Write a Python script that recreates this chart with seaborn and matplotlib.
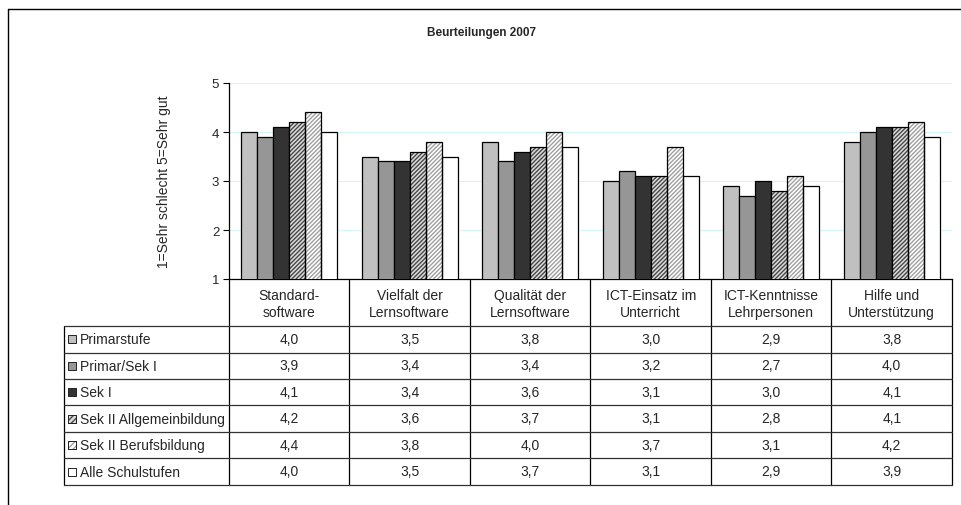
import numpy as np
import pandas as pd
import matplotlib
matplotlib.use("Agg")
import matplotlib.pyplot as plt
from matplotlib.lines import Line2D
from matplotlib.patches import Rectangle
from matplotlib.transforms import Affine2D, blended_transform_factory
import seaborn as sns

# ---- data -------------------------------------------------------------
categories = [
    "Standard-\nsoftware",
    "Vielfalt der\nLernsoftware",
    "Qualität der\nLernsoftware",
    "ICT-Einsatz im\nUnterricht",
    "ICT-Kenntnisse\nLehrpersonen",
    "Hilfe und\nUnterstützung",
]
series_names = [
    "Primarstufe",
    "Primar/Sek I",
    "Sek I",
    "Sek II Allgemeinbildung",
    "Sek II Berufsbildung",
    "Alle Schulstufen",
]
primarstufe = [4.0, 3.5, 3.8, 3.0, 2.9, 3.8]
primar_sek1 = [3.9, 3.4, 3.4, 3.2, 2.7, 4.0]
sek1 = [4.1, 3.4, 3.6, 3.1, 3.0, 4.1]
sek2_allgemein = [4.2, 3.6, 3.7, 3.1, 2.8, 4.1]
sek2_beruf = [4.4, 3.8, 4.0, 3.7, 3.1, 4.2]
alle = [4.0, 3.5, 3.7, 3.1, 2.9, 3.9]
series_values = [primarstufe, primar_sek1, sek1, sek2_allgemein, sek2_beruf, alle]
y_ticks = [1, 2, 3, 4, 5]

# ---- styles -----------------------------------------------------------
face_colors = ["#c0c0c0", "#969696", "#333333", "#dcdcdc", "#ffffff", "#ffffff"]
hatch_colors = [None, None, None, "#484848", "#a0a0a0", None]
hatch_pattern = "////////"
table_fs = 10

df = pd.DataFrame(
    [(c, s, v) for s, vals in zip(series_names, series_values)
     for c, v in zip(categories, vals)],
    columns=["Kategorie", "Stufe", "Wert"],
)

sns.set_theme(style="white")
plt.rcParams["font.family"] = ["Liberation Sans", "DejaVu Sans"]
plt.rcParams["hatch.linewidth"] = 1.0

W, H = 962, 506
fig = plt.figure(figsize=(W / 100, H / 100), dpi=100)
fig.patch.set_facecolor("white")

# pixel layout transform (origin top-left)
pix = Affine2D().scale(1 / W, -1 / H).translate(0, 1) + fig.transFigure

left_px, right_px, top_px, bottom_px = 229, 952, 84, 280
ax = fig.add_axes([left_px / W, 1 - bottom_px / H,
                   (right_px - left_px) / W, (bottom_px - top_px) / H])

sns.barplot(
    data=df, x="Kategorie", y="Wert", hue="Stufe",
    order=categories, hue_order=series_names,
    palette=face_colors, edgecolor="black", linewidth=0.9,
    width=0.8, gap=0, legend=False, ax=ax, zorder=3,
)

# hatched series: stripes in their own colour, black outline drawn on top
for cont, hc in zip(ax.containers, hatch_colors):
    if hc is None:
        continue
    for p in cont.patches:
        p.set_hatch(hatch_pattern)
        p.set_edgecolor(hc)
        p.set_linewidth(0)
        ax.add_patch(Rectangle(p.get_xy(), p.get_width(), p.get_height(),
                               fill=False, edgecolor="black", linewidth=0.9,
                               zorder=4))

ax.set_ylim(1, 5)
ax.set_xlim(-0.5, len(categories) - 0.5)
ax.set_yticks(y_ticks)
ax.set_yticklabels([str(t) for t in y_ticks], fontsize=9.5)
ax.tick_params(axis="y", direction="out", length=4, width=0.8,
               color="black", pad=3, left=True)
ax.tick_params(axis="x", bottom=False, labelbottom=False)
ax.set_xlabel("")
ax.set_ylabel("1=Sehr schlecht 5=Sehr gut", fontsize=table_fs, labelpad=29)
ax.yaxis.grid(True, color="#d4f6f6", linewidth=0.8, zorder=0)
ax.set_axisbelow(True)
for side in ("top", "right"):
    ax.spines[side].set_visible(False)
for side in ("left", "bottom"):
    ax.spines[side].set_color("black")
    ax.spines[side].set_linewidth(0.9)

# ---- title and outer frame ---------------------------------------------
fig.text(482, 33, "Beurteilungen 2007", transform=pix, ha="center",
         va="center", fontsize=8.5, fontweight="bold")
fig.add_artist(Line2D([8, 962], [10, 10], transform=pix, color="black", lw=1))
fig.add_artist(Line2D([8, 8], [10, 506], transform=pix, color="black", lw=1))

# ---- data table under the axis ------------------------------------------
xpix = blended_transform_factory(ax.transData, pix)
header_top = bottom_px
row_lines = [327, 353.5, 380, 406.5, 433, 459.5, 486]
table_left = 64
n = len(categories)

# vertical rules: column boundaries follow the category slots
for b in np.arange(n + 1) - 0.5:
    fig.add_artist(Line2D([b, b], [header_top, row_lines[-1]], transform=xpix,
                          color="black", lw=0.9))
fig.add_artist(Line2D([table_left, table_left], [row_lines[0], row_lines[-1]],
                      transform=pix, color="black", lw=0.9))
# horizontal rules
for y in row_lines:
    fig.add_artist(Line2D([table_left, right_px], [y, y], transform=pix,
                          color="#333333", lw=0.9))

# header: category names
for i, cat in enumerate(categories):
    fig.text(i, (header_top + row_lines[0]) / 2 + 1, cat, transform=xpix,
             ha="center", va="center", fontsize=table_fs, linespacing=1.3)

# rows: legend key, series name and values
for r, (name, vals) in enumerate(zip(series_names, series_values)):
    yc = (row_lines[r] + row_lines[r + 1]) / 2
    key = Rectangle((68, yc - 4), 8, 8, transform=pix,
                    facecolor=face_colors[r], edgecolor="#222222", lw=0.7)
    fig.add_artist(key)
    if hatch_colors[r] is not None:
        fig.add_artist(Rectangle((68, yc - 4), 8, 8, transform=pix,
                                 facecolor=face_colors[r], hatch="//////",
                                 edgecolor=hatch_colors[r], lw=0))
        fig.add_artist(Rectangle((68, yc - 4), 8, 8, transform=pix,
                                 fill=False, edgecolor="#222222", lw=0.7))
    fig.text(80, yc, name, transform=pix, ha="left", va="center",
             fontsize=table_fs)
    for i, v in enumerate(vals):
        fig.text(i, yc - 0.5, f"{v:.1f}".replace(".", ","), transform=xpix,
                 ha="center", va="center", fontsize=table_fs)

fig.savefig("out.png", dpi=100)
